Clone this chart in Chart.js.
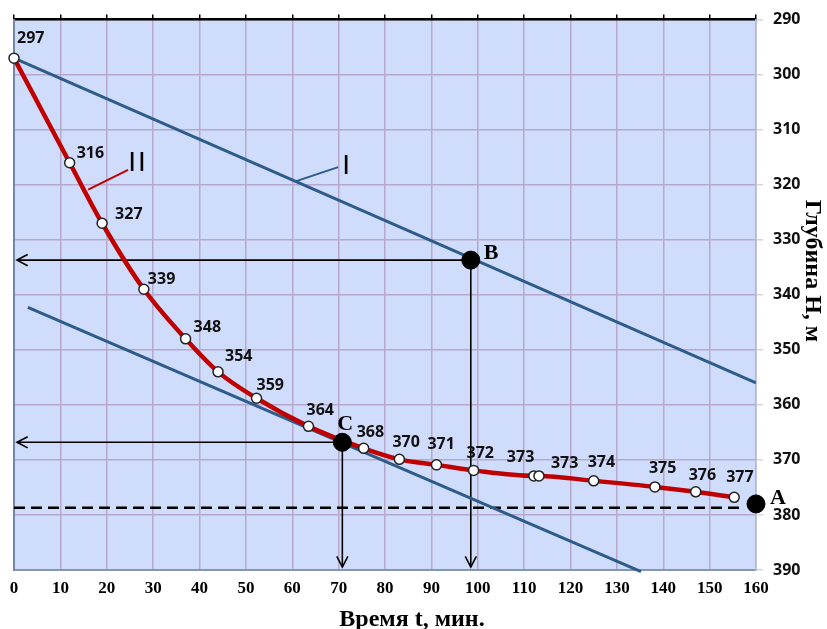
<!DOCTYPE html>
<html><head><meta charset="utf-8">
<script src="https://cdn.jsdelivr.net/npm/chart.js@4.4.1/dist/chart.umd.min.js"></script>
<style>html,body{margin:0;padding:0;background:#fff;overflow:hidden}#wrap{width:827px;height:629px}</style>
</head><body><div id="wrap"><canvas id="c" width="827" height="629"></canvas></div>
<script>
// ---- data ----
const timeMin = [0, 12, 19, 28, 37, 44, 52.3, 63.5, 75.4, 83.1, 91.1, 99.1, 112.1, 113.2, 125, 138.2, 147, 155.3];
const depthM  = [297, 316, 327, 339, 348, 354, 358.8, 363.9, 367.9, 369.9, 370.9, 371.9, 372.9, 372.9, 373.8, 374.9, 375.8, 376.8];
const depthLabels = ['297','316','327','339','348','354','359','364','368','370','371','372','373','373','374','375','376','377'];
const lineI_t = [0, 160];
const lineI_H = [297, 356];
const lineC_t = [3, 135.2];
const lineC_H = [342.3, 390.3];
const pointB = [98.5, 333.7];
const pointC = [70.8, 366.8];
const pointA = [160, 378];
const dashed_t = [0, 157];
const dashed_H = [378.7, 378.7];
const xTickValues = [0,10,20,30,40,50,60,70,80,90,100,110,120,130,140,150,160];
const yTickValues = [290,300,310,320,330,340,350,360,370,380,390];
const xTitle = 'Время t, мин.';
const yTitle = 'Глубина H, м';

// label offsets (px) relative to each marker
const labelOffsets = [[3,-20],[7,-9],[13,-9],[4,-10],[8,-11],[7,-15],[0,-13],[-2,-16],[-7,-16],[-7,-17],[-9,-20],[-7,-17],[-27,-18],[12,-12],[-6,-18],[-6,-18],[-7,-16],[-8,-20]];

const BLUE = '#2d5b8a';
const RED = '#c00000';
const GRID = '#b8a7cc';

const toPts = (xs, ys) => xs.map((x, i) => ({x: x, y: ys[i]}));

function arrow(ctx, x1, y1, x2, y2) {
  ctx.beginPath(); ctx.moveTo(x1, y1); ctx.lineTo(x2, y2); ctx.stroke();
  const a = Math.atan2(y2 - y1, x2 - x1), L = 12, s = 0.48;
  ctx.beginPath();
  ctx.moveTo(x2 - L * Math.cos(a - s), y2 - L * Math.sin(a - s));
  ctx.lineTo(x2, y2);
  ctx.lineTo(x2 - L * Math.cos(a + s), y2 - L * Math.sin(a + s));
  ctx.stroke();
}

const deco = {
  id: 'deco',
  beforeDraw(chart) {
    const {ctx, chartArea: ca} = chart;
    ctx.save(); ctx.fillStyle = '#d0dcfb';
    ctx.fillRect(ca.left, ca.top, ca.right - ca.left, ca.bottom - ca.top);
    ctx.restore();
  },
  beforeDatasetsDraw(chart) {
    const {ctx, chartArea: ca, scales} = chart;
    const X = v => scales.x.getPixelForValue(v), Y = v => scales.y.getPixelForValue(v);
    ctx.save();
    ctx.strokeStyle = '#000'; ctx.lineWidth = 1.6;
    [pointB, pointC].forEach(p => {
      arrow(ctx, X(p[0]), Y(p[1]), ca.left + 3, Y(p[1]));
      arrow(ctx, X(p[0]), Y(p[1]), X(p[0]), ca.bottom - 3);
    });
    // leader lines for curve names
    ctx.lineWidth = 2;
    ctx.strokeStyle = BLUE;
    ctx.beginPath(); ctx.moveTo(X(60.7), Y(319.4)); ctx.lineTo(X(69.9), Y(316.8)); ctx.stroke();
    ctx.strokeStyle = RED;
    ctx.beginPath(); ctx.moveTo(X(16.0), Y(320.9)); ctx.lineTo(X(24.6), Y(317.3)); ctx.stroke();
    ctx.restore();
  },
  afterDatasetsDraw(chart) {
    const {ctx, scales} = chart;
    const X = v => scales.x.getPixelForValue(v), Y = v => scales.y.getPixelForValue(v);
    ctx.save();
    ctx.fillStyle = '#111';
    ctx.font = 'bold 16px "Open Sans"';
    ctx.textAlign = 'left'; ctx.textBaseline = 'middle';
    timeMin.forEach((t, i) => {
      const o = labelOffsets[i];
      ctx.fillText(depthLabels[i], X(t) + o[0], Y(depthM[i]) + o[1]);
    });
    // curve names
    ctx.fillStyle = '#000';
    ctx.font = '28px "Liberation Sans"';
    ctx.textAlign = 'center'; ctx.textBaseline = 'middle';
    ctx.fillText('I', X(71.6), Y(316.6));
    ctx.fillText('I', X(25.5), Y(316.1));
    ctx.fillText('I', X(27.6), Y(316.1));
    // point letters
    ctx.font = 'bold 22px "Liberation Serif"';
    ctx.textAlign = 'left'; ctx.textBaseline = 'alphabetic';
    ctx.fillText('B', X(pointB[0]) + 13, Y(pointB[1]) - 1);
    ctx.fillText('C', X(pointC[0]) - 5, Y(pointC[1]) - 12);
    ctx.fillText('A', X(pointA[0]) + 14, Y(pointA[1]) + 0);
    // axis titles
    ctx.font = 'bold 24px "Liberation Serif"';
    ctx.textAlign = 'center'; ctx.textBaseline = 'alphabetic';
    ctx.fillText(xTitle, 412, 626);
    ctx.translate(806, 271); ctx.rotate(Math.PI / 2);
    ctx.fillText(yTitle, 0, 0);
    ctx.restore();
  }
};

new Chart(document.getElementById('c'), {
  type: 'scatter',
  data: {
    datasets: [
      {data: toPts([pointB[0]], [pointB[1]]), pointRadius: 9, pointBackgroundColor: '#000', pointBorderColor: '#000', order: 0},
      {data: toPts([pointC[0]], [pointC[1]]), pointRadius: 9, pointBackgroundColor: '#000', pointBorderColor: '#000', order: 0},
      {data: toPts([pointA[0]], [pointA[1]]), pointRadius: 9, pointBackgroundColor: '#000', pointBorderColor: '#000', order: 0, clip: false},
      {data: toPts(timeMin, depthM), showLine: true, borderColor: RED, borderWidth: 4.5,
       cubicInterpolationMode: 'monotone', pointRadius: 5, pointBackgroundColor: '#fff',
       pointBorderColor: '#222', pointBorderWidth: 1.5, order: 1, clip: false},
      {data: toPts(lineI_t, lineI_H), showLine: true, borderColor: BLUE, borderWidth: 3, pointRadius: 0, order: 2},
      {data: toPts(lineC_t, lineC_H), showLine: true, borderColor: BLUE, borderWidth: 3, pointRadius: 0, order: 2, clip: false},
      {data: toPts(dashed_t, dashed_H), showLine: true, borderColor: '#000', borderWidth: 2.5, borderDash: [11, 6], pointRadius: 0, order: 3}
    ]
  },
  options: {
    responsive: false, animation: false, events: [],
    layout: {padding: {left: 14, top: 0, right: 0, bottom: 0}},
    plugins: {legend: {display: false}, tooltip: {enabled: false}},
    scales: {
      x: {
        type: 'linear', position: 'bottom', min: 0, max: 160,
        afterBuildTicks: s => { s.ticks = xTickValues.map(v => ({value: v})); },
        afterFit: s => { s.height = 59; },
        ticks: {color: '#000', padding: 8, font: {family: 'Liberation Serif', weight: 'bold', size: 17}},
        grid: {color: GRID, lineWidth: 1.5, drawTicks: false},
        border: {color: '#8595b5', width: 2}
      },
      xTop: {
        type: 'linear', position: 'top', min: 0, max: 160,
        afterBuildTicks: s => { s.ticks = xTickValues.map(v => ({value: v})); },
        afterFit: s => { s.height = 19; },
        ticks: {display: false},
        grid: {drawOnChartArea: false, drawTicks: true, tickLength: 5, color: '#000', lineWidth: 1.5},
        border: {color: '#000', width: 2.5}
      },
      y: {
        type: 'linear', position: 'right', min: 290, max: 390, reverse: true,
        afterBuildTicks: s => { s.ticks = yTickValues.map(v => ({value: v})); },
        afterFit: s => { s.width = 71; },
        ticks: {color: '#111', padding: 10, font: {family: 'Open Sans', weight: 'bold', size: 16}},
        grid: {color: GRID, lineWidth: 1.5, tickColor: '#d6d6d6', tickLength: 7},
        border: {color: '#a9badb', width: 1.5}
      },
      yLeft: {
        type: 'linear', position: 'left', min: 290, max: 390, reverse: true,
        afterFit: s => { s.width = 0; },
        ticks: {display: false},
        grid: {drawOnChartArea: false, drawTicks: false},
        border: {color: '#7585a8', width: 2}
      }
    }
  },
  plugins: [deco]
});
</script>
</body></html>
